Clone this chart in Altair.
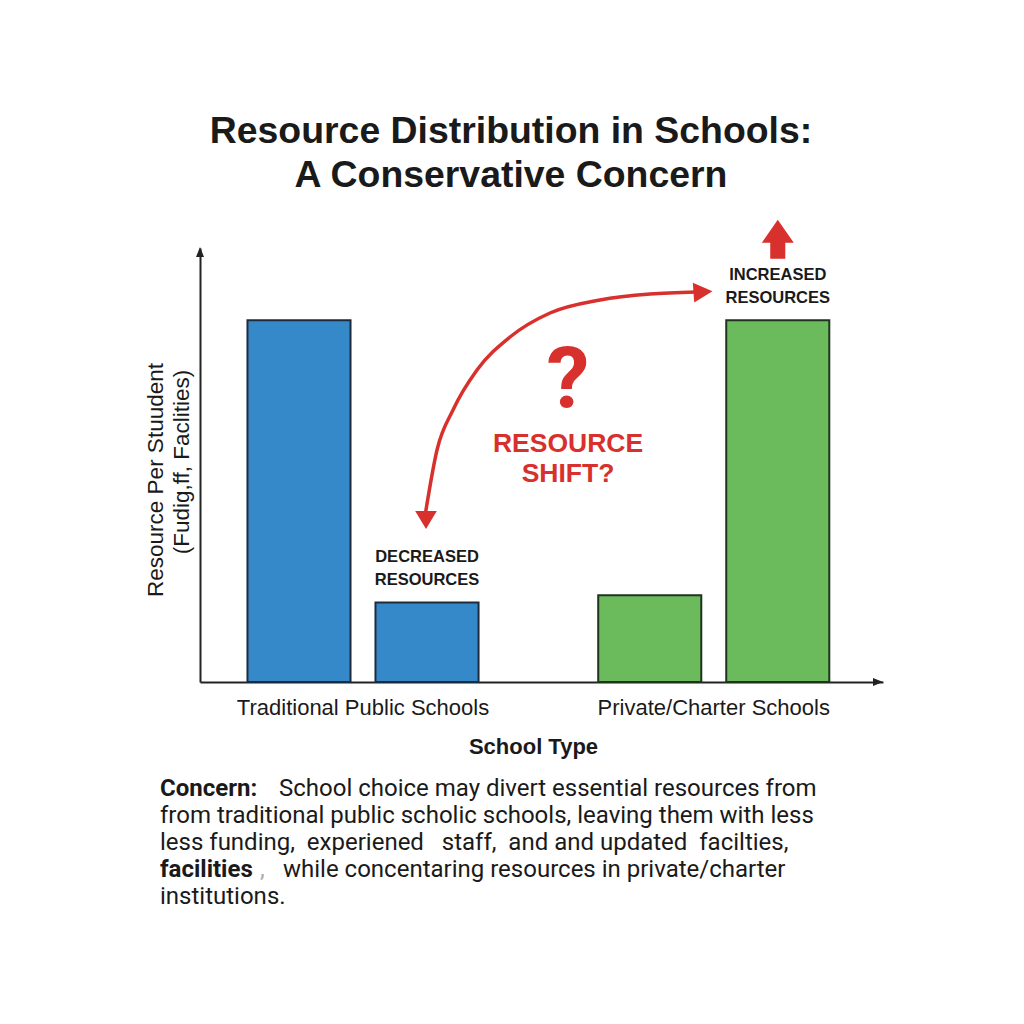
import altair as alt
import pandas as pd

# ---------------- data ----------------
title_lines = ["Resource Distribution in Schools:", "A Conservative Concern"]
school_types = ["Traditional Public Schools", "Private/Charter Schools"]
periods = ["Before", "After"]
bar_group = ["Traditional Public Schools", "Traditional Public Schools",
             "Private/Charter Schools", "Private/Charter Schools"]
bar_period = ["Before", "After", "Before", "After"]
bar_value = [100, 22, 24, 100]
bar_note = ["", "DECREASED|RESOURCES", "", "INCREASED|RESOURCES"]
y_title_1 = "Resource Per Stuudent"
y_title_2 = "(Fudig,ff, Faclities)"
x_title = "School Type"
shift_question = "?"
shift_label = ["RESOURCE", "SHIFT?"]
concern_lead = "Concern:"
concern_line1 = "School choice may divert essential resources from"
concern_line2 = "from traditional public scholic schools, leaving them with less"
concern_line3 = "less funding,\u00a0 experiened\u00a0\u00a0 staff,\u00a0 and and updated\u00a0 facilties,"
concern_bold4 = "facilities"
concern_comma4 = ","
concern_line4 = "while concentaring resources in private/charter"
concern_line5 = "institutions."
# guide points of the curved "resource shift" annotation arrow
curve_x = [225, 237, 253, 277, 310, 350, 400, 450, 496]
curve_y = [268, 202, 162, 122, 89, 65, 52, 46, 44]

# ---------------- styles ----------------
W, H = 683, 434
BLUE, BLUE_EDGE = "#3589c9", "#1c2c3c"
GREEN, GREEN_EDGE = "#6bbb5d", "#1f3320"
RED = "#d8302c"
INK = "#1a1a1a"
AXIS = "#222222"
SANS = "Liberation Sans"
ROBO = "Roboto"
CFS = 24  # concern text font size

UP_TRI = "M0,-1L0.8,1L-0.8,1Z"
RIGHT_TRI = "M1,0L-1,0.8L-1,-0.8Z"
DOWN_HEAD = "M0,1L-1.2,-1L1.2,-1Z"
RIGHT_HEAD = "M1,0L-1,1.05L-1,-1.05Z"
BLOCK_UP = "M0,-1.22L1,0.22L0.47,0.22L0.47,1.22L-0.47,1.22L-0.47,0.22L-1,0.22Z"

df = pd.DataFrame({"group": bar_group, "period": bar_period,
                   "value": bar_value, "note": bar_note})

one = alt.Data(values=[{}])


def txt(lines, x, y, size, weight="normal", color=INK, align="center",
        font=SANS, baseline="alphabetic", lh=None, angle=None):
    kw = dict(text=lines, font=font, fontSize=size, fontWeight=weight,
              color=color, align=align, baseline=baseline)
    if lh is not None:
        kw["lineHeight"] = lh
    if angle is not None:
        kw["angle"] = angle
    return alt.Chart(one).mark_text(**kw).encode(x=alt.value(x), y=alt.value(y))


def sym(shape, x, y, size, color, angle=None):
    kw = dict(shape=shape, size=size, filled=True, color=color, opacity=1,
              strokeWidth=0)
    if angle is not None:
        kw["angle"] = angle
    return alt.Chart(one).mark_point(**kw).encode(x=alt.value(x), y=alt.value(y))


x_enc = alt.X(
    "group:N", sort=school_types,
    scale=alt.Scale(paddingInner=0.3, paddingOuter=0.1236, align=0.464),
    axis=alt.Axis(title=x_title, labelAngle=0, ticks=False, tickSize=0,
                  grid=False, domainColor=AXIS, domainWidth=2,
                  labelFont=SANS, labelFontSize=22, labelColor=INK,
                  labelLimit=0, labelPadding=15, titleFont=SANS,
                  titleFontSize=22, titleFontWeight="bold", titleColor=INK,
                  titlePadding=18, titleX=333, titleAlign="center"),
)
xo_enc = alt.XOffset("period:N", sort=periods,
                     scale=alt.Scale(paddingInner=0.195, paddingOuter=0.0565))
y_enc = alt.Y(
    "value:Q", scale=alt.Scale(domain=[0, 120]),
    axis=alt.Axis(title=None, labels=False, ticks=False, grid=False,
                  domainColor=AXIS, domainWidth=2),
)

bars = alt.Chart(df).mark_bar(strokeWidth=2).encode(
    x=x_enc, xOffset=xo_enc, y=y_enc,
    color=alt.Color("group:N", scale=alt.Scale(domain=school_types, range=[BLUE, GREEN]), legend=None),
    stroke=alt.Stroke("group:N", scale=alt.Scale(domain=school_types, range=[BLUE_EDGE, GREEN_EDGE]), legend=None),
)

notes = alt.Chart(df).transform_filter("datum.note != ''").transform_calculate(
    lines="split(datum.note, '|')"
).mark_text(font=SANS, fontSize=16.5, fontWeight="bold", color=INK,
            baseline="alphabetic", dy=-40, lineHeight=23).encode(
    x=alt.X("group:N", sort=school_types),
    xOffset=alt.XOffset("period:N", sort=periods),
    y="value:Q",
    text="lines:N",
)

up_arrow = alt.Chart(df).transform_filter(
    "indexof(datum.note, 'INCREASED') == 0"
).mark_point(shape=BLOCK_UP, size=1024, filled=True, color=RED, opacity=1,
             strokeWidth=0).encode(
    x=alt.X("group:N", sort=school_types),
    xOffset=alt.XOffset("period:N", sort=periods),
    y="value:Q",
    yOffset=alt.value(-81),
)

curve = alt.Chart(pd.DataFrame({"cx": curve_x, "cy": curve_y})).mark_line(
    color=RED, strokeWidth=3.5, interpolate="monotone"
).encode(
    x=alt.X("cx:Q", scale=None, axis=None),
    y=alt.Y("cy:Q", scale=None, axis=None),
    order="cx:Q",
)

layers = [
    bars,
    notes,
    up_arrow,
    curve,
    sym(DOWN_HEAD, 226, 272, 324, RED),
    sym(RIGHT_HEAD, 503, 44, 361, RED, angle=356),
    sym(UP_TRI, 0, 4, 100, AXIS),
    sym(RIGHT_TRI, 678, H, 100, AXIS),
    txt(y_title_1, -44, 232, 22.5, angle=270, baseline="middle"),
    txt(y_title_2, -18, 214, 22.5, angle=270, baseline="middle"),
    txt(shift_question, 368, 160, 86, weight="bold", color=RED, font=ROBO),
    txt(shift_label, 368, 204, 26.5, weight="bold", color=RED, lh=30),
    txt(title_lines, 311, -105, 37.4, weight="bold", lh=44),
    txt(concern_lead, -40, 548, CFS, weight="bold", align="left", font=ROBO),
    txt(concern_line1, 79, 548, CFS, align="left", font=ROBO),
    txt(concern_line2, -40, 575, CFS, align="left", font=ROBO),
    txt(concern_line3, -40, 602, CFS, align="left", font=ROBO),
    txt(concern_bold4, -40, 629, CFS, weight="bold", align="left", font=ROBO),
    txt(concern_comma4, 60, 629, CFS, color="#aaaaaa", align="left", font=ROBO),
    txt(concern_line4, 83, 629, CFS, align="left", font=ROBO),
    txt(concern_line5, -40, 656, CFS, align="left", font=ROBO),
]

chart = alt.layer(*layers).properties(
    width=W, height=H, autosize="none",
    padding={"left": 192, "top": 240, "right": 120, "bottom": 250},
    background="white",
).configure_view(stroke=None)

chart.save("out.html", embed_options={"renderer": "svg", "actions": False})
